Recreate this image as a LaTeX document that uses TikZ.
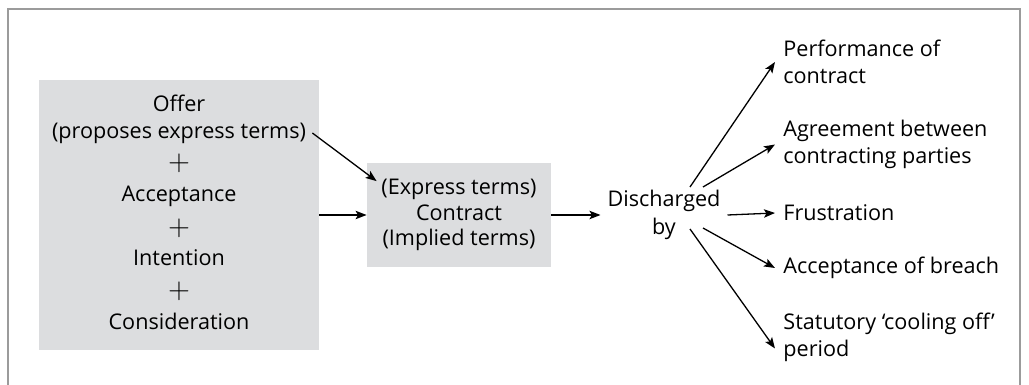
\documentclass[tikz,border=0pt]{standalone}
\usepackage{fontspec}
\setmainfont{Open Sans}
\usetikzlibrary{shapes, arrows, arrows.meta, positioning, calc}
\definecolor{boxgray}{HTML}{DCDDDF}
\definecolor{framegray}{HTML}{9B9B9B}
\tikzstyle{block} = [rectangle, fill=boxgray, text centered, inner sep=0pt]
\tikzstyle{line} = [draw, line width=0.65pt, -{Stealth[length=5.5pt, width=4.2pt, inset=1.2pt]}]
\tikzstyle{words} = [align=center, inner sep=3pt, text height=7.8pt, text depth=2.6pt]
\tikzstyle{outcome} = [align=left, anchor=west, inner sep=4pt]
\tikzstyle{plus} = [inner sep=0pt, font=\fontsize{15}{15}\selectfont]

\begin{document}
\begin{tikzpicture}[x=0.5pt, y=-0.5pt, node distance=13.5pt, font=\fontsize{10.8}{13.7}\selectfont]
    \useasboundingbox (0,0) rectangle (1029,385);
    \draw [framegray, line width=1pt] (8,385) -- (8,9) -- (1020,9) -- (1020,385);

    % formation of the contract
    \node [block, minimum width=140pt, minimum height=135pt] (terms) at (179,215) {};
    \node [words] (offer) at (179,106) {Offer};
    \node [words, below of=offer] (proposes) {(proposes express terms)};
    \node [plus, below of=proposes, node distance=15pt] (plusa) {$+$};
    \node [words, below of=plusa, node distance=16.5pt] (accept) {Acceptance};
    \node [plus, below of=accept, node distance=16pt] (plusb) {$+$};
    \node [words, below of=plusb, node distance=16pt] (intent) {Intention};
    \node [plus, below of=intent, node distance=15.5pt] (plusc) {$+$};
    \node [words, below of=plusc, node distance=16.5pt] (consid) {Consideration};

    \node [block, right of=terms, node distance=140pt, minimum width=92pt, minimum height=51.5pt,
           align=center, font=\fontsize{10.8}{12.9}\selectfont] (contract) {(Express terms)\\Contract\\(Implied terms)};
    \node [align=center, right of=contract, node distance=102.5pt] (disch) {Discharged\\by};

    % ways of discharge
    \node [outcome] (perf) at (775,62) {Performance of\\contract};
    \node [outcome] (agree) at (775,144.5) {Agreement between\\contracting parties};
    \node [outcome] (frust) at (775,213) {Frustration};
    \node [outcome] (breach) at (775,268) {Acceptance of breach};
    \node [outcome] (cool) at (775,337.5) {Statutory `cooling off'\\period};

    \path [line] (proposes.east) -- ([shift={(10,18)}]contract.north west);
    \path [line] (terms) -- (contract);
    \path [line] (contract) -- (disch);
    \path [line] ([shift={(26,-28)}]disch.center) -- (perf.west);
    \path [line] ([shift={(39,-28)}]disch.center) -- (agree.west);
    \path [line] (disch.east) -- (frust.west);
    \path [line] ([shift={(39,13)}]disch.center) -- (breach.west);
    \path [line] ([shift={(26,14)}]disch.center) -- ([shift={(0,11)}]cool.west);
\end{tikzpicture}
\end{document}
